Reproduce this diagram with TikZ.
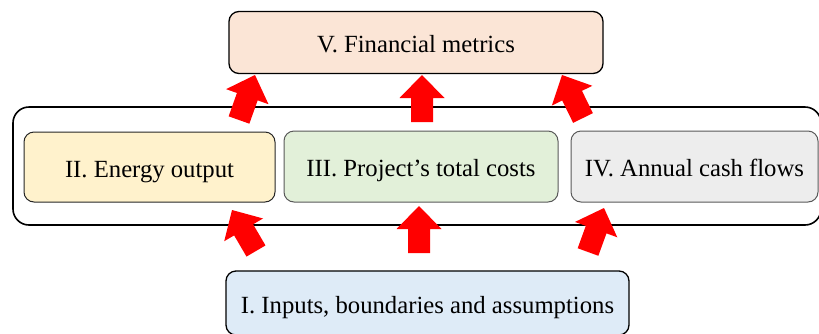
\documentclass[tikz,border=0pt]{standalone}
\usepackage{fontspec}
\setmainfont{Liberation Serif}
\usetikzlibrary{calc}
\definecolor{peach}{HTML}{FBE5D6}
\definecolor{lightyellow}{HTML}{FFF2CC}
\definecolor{lightgreen}{HTML}{E2F0D9}
\definecolor{lightgrey}{HTML}{EDEDED}
\definecolor{lightblue}{HTML}{DEEBF7}
\definecolor{arrowred}{HTML}{FF0000}
\definecolor{bordergrey}{HTML}{595959}
\begin{document}
\begin{tikzpicture}[x=1pt,y=-1pt,
  box/.style={draw=black, rounded corners=10pt, line width=1pt, inner sep=0pt,
    text height=20pt, text depth=0pt,
    font=\fontsize{24.7}{29}\selectfont},
  container/.style={draw=black, rounded corners=16pt, line width=1.6pt, inner sep=0pt},
  blockarrow/.style={fill=arrowred, draw=none, to path={
    let \p1=($(\tikztotarget)-(\tikztostart)$), \n1={atan2(\y1,\x1)} in
    ($(\tikztostart)+(\n1+90:11pt)$) --
    ($(\tikztotarget)+(\n1+180:23pt)+(\n1+90:11pt)$) --
    ($(\tikztotarget)+(\n1+180:23pt)+(\n1+90:22.5pt)$) --
    (\tikztotarget) --
    ($(\tikztotarget)+(\n1+180:23pt)+(\n1-90:22.5pt)$) --
    ($(\tikztotarget)+(\n1+180:23pt)+(\n1-90:11pt)$) --
    ($(\tikztostart)+(\n1-90:11pt)$) -- cycle}}]
\useasboundingbox (0,0) rectangle (819,333);
% container
\node[container, minimum width=808pt, minimum height=118pt] (C) at (417,166) {};
% boxes
\node[box, fill=peach, line width=1.3pt, minimum width=374pt, minimum height=62pt] (V) at (416,42.5) {V. Financial metrics};
\node[box, fill=lightyellow, draw=black!85, minimum width=251pt, minimum height=70pt] (II) at (149.5,167) {II. Energy output};
\node[box, fill=lightgreen, draw=bordergrey, minimum width=274pt, minimum height=71pt] (III) at (421,166.5) {III. Project’s total costs};
\node[box, fill=lightgrey, draw=bordergrey, minimum width=247pt, minimum height=71pt] (IV) at (694.5,166.5) {IV. Annual cash flows};
\node[box, fill=lightblue, line width=1.3pt, minimum width=403pt, minimum height=64pt] (I) at (427.5,303) {I. Inputs, boundaries and assumptions};
% arrow end points
\coordinate (ba1) at (239,120);
\coordinate (ta1) at (255,75);
\coordinate (ba2) at (422,122);
\coordinate (ta2) at (422,75);
\coordinate (ba3) at (583,118);
\coordinate (ta3) at (562,75);
\coordinate (bb1) at (256,251);
\coordinate (tb1) at (232,210);
\coordinate (bb2) at (419,253);
\coordinate (tb2) at (419,206);
\coordinate (bb3) at (588,252);
\coordinate (tb3) at (604,208);
\path[blockarrow] (ba1) to (ta1);
\path[blockarrow] (ba2) to (ta2);
\path[blockarrow] (ba3) to (ta3);
\path[blockarrow] (bb1) to (tb1);
\path[blockarrow] (bb2) to (tb2);
\path[blockarrow] (bb3) to (tb3);
\end{tikzpicture}
\end{document}
